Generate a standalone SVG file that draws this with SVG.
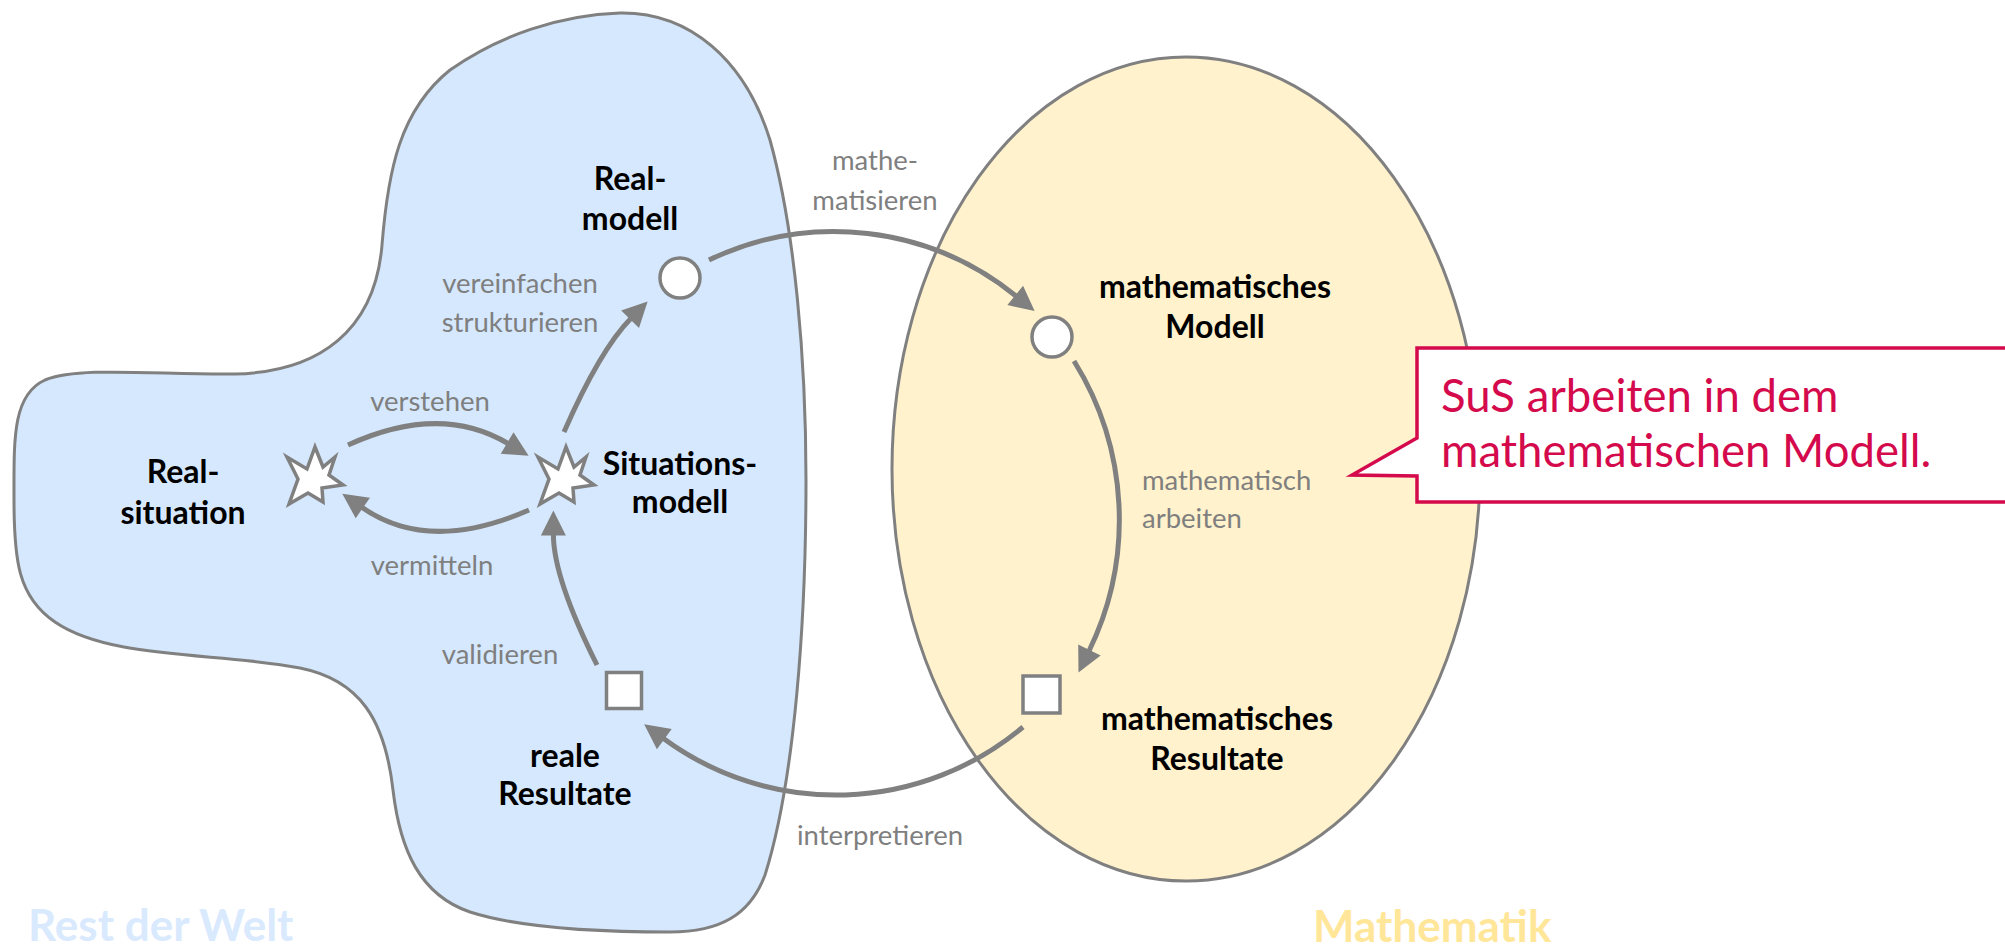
<svg xmlns="http://www.w3.org/2000/svg" width="2005" height="946" viewBox="0 0 2005 946">
<style>
.region{stroke:#808080;stroke-width:3}
.node{fill:#fff;stroke:#808080;stroke-width:3.5}
.arrow{fill:none;stroke:#808080;stroke-width:5}
.lbl{font-family:Lato,"Open Sans",sans-serif;font-weight:bold;font-size:32px;fill:#000;text-anchor:middle}
.gray{font-family:Lato,"Open Sans",sans-serif;font-size:27.5px;fill:#7f7f7f}
.big{font-family:Lato,"Open Sans",sans-serif;font-weight:bold;font-size:44px}
.call{font-family:Lato,"Open Sans",sans-serif;font-size:45.5px;fill:#d40a4c}
</style>
<defs>
<marker id="ah" markerUnits="userSpaceOnUse" markerWidth="26" markerHeight="26" viewBox="0 0 26 26" refX="1" refY="13" orient="auto" overflow="visible">
<path d="M0,0.5 L25,13 L0,25.5 Z" fill="#808080"/>
</marker>
<polygon id="star" points="315,447 323,467 335,457 329,475 343,485 322,488 323,502 308,493 289,504 298,479 287,457 307,469" fill="#fff" stroke="#808080" stroke-width="3.5" stroke-linejoin="miter"/>
</defs>
<rect width="2005" height="946" fill="#fff"/>
<g id="rest-der-welt">
<path class="region" fill="#d5e8fd" d="M382,245 C388,170 400,110 450,70 C500,35 560,15 620,13 C690,12 745,60 770,140 C795,230 806,360 806,480 C806,620 795,780 765,875 C750,915 720,932 670,932 C600,932 520,928 470,912 C420,895 400,850 393,790 C385,720 360,680 300,668 C220,652 110,660 55,622 C18,597 14,560 14,500 C14,440 12,395 45,380 C80,366 160,375 235,374 C320,372 375,330 382,245 Z"/>
<text class="big" x="28" y="941" fill="#d9e9fe">Rest der Welt</text>
</g>
<g id="mathematik">
<ellipse class="region" fill="#fff2cc" cx="1186" cy="469" rx="294" ry="412"/>
<text class="big" x="1313" y="942" fill="#ffe699">Mathematik</text>
</g>
<g id="connectors">
<path class="arrow" marker-end="url(#ah)" d="M348,445 Q440,403 508,443.5"/>
<path class="arrow" marker-end="url(#ah)" d="M529,510 Q429,554 362,507.4"/>
<path class="arrow" marker-end="url(#ah)" d="M564,432 Q600,350 630.8,318.6"/>
<path class="arrow" marker-end="url(#ah)" d="M597,665 Q553.4,578 553.4,534.5"/>
<path class="arrow" marker-end="url(#ah)" d="M709,260 A289,289 0 0,1 1016,296"/>
<path class="arrow" marker-end="url(#ah)" d="M1074,361 A300,300 0 0,1 1089,651"/>
<path class="arrow" marker-end="url(#ah)" d="M1023,727 A291,291 0 0,1 663.5,738.5"/>
<text class="gray" x="430" y="411" text-anchor="middle">verstehen</text>
<text class="gray" x="432" y="575" text-anchor="middle">vermitteln</text>
<text class="gray" x="520" y="293" text-anchor="middle">vereinfachen</text>
<text class="gray" x="520" y="332" text-anchor="middle">strukturieren</text>
<text class="gray" x="875" y="170" text-anchor="middle">mathe-</text>
<text class="gray" x="875" y="210" text-anchor="middle">matisieren</text>
<text class="gray" x="1142" y="490">mathematisch</text>
<text class="gray" x="1142" y="528">arbeiten</text>
<text class="gray" x="500" y="664" text-anchor="middle">validieren</text>
<text class="gray" x="880" y="845" text-anchor="middle">interpretieren</text>
</g>
<g id="realsituation">
<use href="#star"/>
<text class="lbl" x="183" y="483">Real-</text>
<text class="lbl" x="183" y="524">situation</text>
</g>
<g id="situationsmodell">
<use href="#star" transform="translate(251,0)"/>
<text class="lbl" x="680" y="475">Situations-</text>
<text class="lbl" x="680" y="513">modell</text>
</g>
<g id="realmodell">
<circle class="node" cx="680" cy="278" r="20"/>
<text class="lbl" x="630" y="190">Real-</text>
<text class="lbl" x="630" y="230">modell</text>
</g>
<g id="mathematisches-modell">
<circle class="node" cx="1052" cy="337" r="20"/>
<text class="lbl" x="1215" y="298">mathematisches</text>
<text class="lbl" x="1215" y="338">Modell</text>
</g>
<g id="mathematisches-resultate">
<rect class="node" x="1023" y="676" width="37" height="37"/>
<text class="lbl" x="1217" y="730">mathematisches</text>
<text class="lbl" x="1217" y="770">Resultate</text>
</g>
<g id="reale-resultate">
<rect class="node" x="606.5" y="672.5" width="35" height="36"/>
<text class="lbl" x="565" y="767">reale</text>
<text class="lbl" x="565" y="805">Resultate</text>
</g>
<g id="callout">
<path d="M1417,348 L2010,348 L2010,502 L1417,502 L1417,476 L1352,475 L1417,438 Z" fill="#fff" stroke="#d40a4c" stroke-width="3.5"/>
<text class="call" x="1441" y="412">SuS arbeiten in dem</text>
<text class="call" x="1441" y="467">mathematischen Modell.</text>
</g>
</svg>
